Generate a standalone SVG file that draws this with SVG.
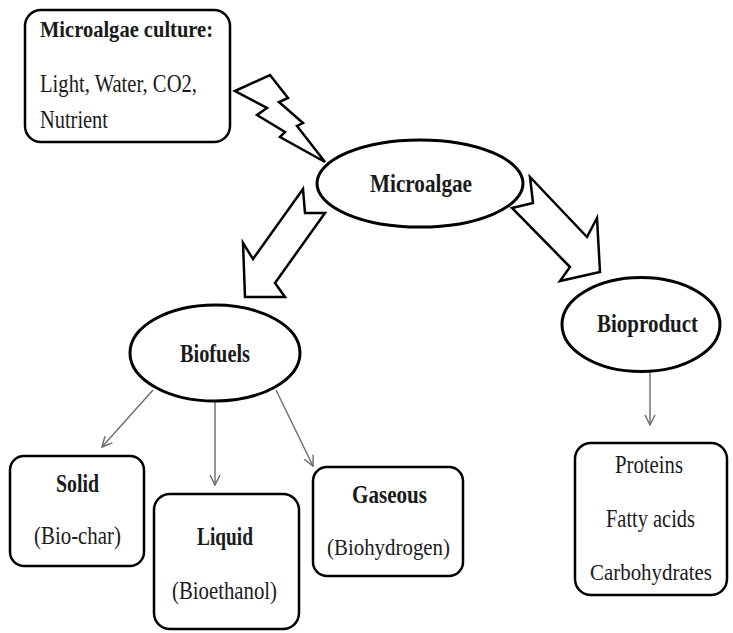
<svg xmlns="http://www.w3.org/2000/svg" width="733" height="633" viewBox="0 0 733 633">
<defs>
<style>
.box{fill:#fff;stroke:#000;stroke-width:2.5}
.ell{fill:#fff;stroke:#000;stroke-width:3}
.big{fill:#fff;stroke:#000;stroke-width:2.5;stroke-linejoin:miter}
.thin{fill:none;stroke:#6b6b6b;stroke-width:1.4}
text{font-family:"Liberation Serif","Times New Roman",serif;fill:#1a1a1a}
.b{font-weight:bold;font-size:25px}
.r{font-size:25px}
</style>
<marker id="v" viewBox="0 0 12 12" refX="11" refY="6" markerWidth="12" markerHeight="12" markerUnits="userSpaceOnUse" orient="auto">
<path d="M1,1 L11,6 L1,11" fill="none" stroke="#6b6b6b" stroke-width="1.4"/>
</marker>
</defs>
<g id="connectors">
<polygon class="big" points="235,91 270,75 288,98 279,102 303,123 297,126 325,162 280,137 285,132 257,115 267,108"/>
<polygon class="big" points="303,189 305,213 325,213 275,283 285,297 245,297 243,243 253,259"/>
<polygon class="big" points="530,177 533,203 512,208 570,267 560,281 600,272 597,218 587,237"/>
<line class="thin" x1="153" y1="390" x2="102" y2="447" marker-end="url(#v)"/>
<line class="thin" x1="215" y1="401" x2="215" y2="485" marker-end="url(#v)"/>
<line class="thin" x1="276" y1="390" x2="313" y2="466" marker-end="url(#v)"/>
<line class="thin" x1="650" y1="372" x2="650" y2="425" marker-end="url(#v)"/>
</g>
<g id="culture">
<rect class="box" x="25" y="10" width="205" height="132" rx="16"/>
<text class="b" x="40" y="37" style="font-size:23px" textLength="173" lengthAdjust="spacingAndGlyphs">Microalgae culture:</text>
<text class="r" x="40" y="92" textLength="157" lengthAdjust="spacingAndGlyphs">Light, Water, CO2,</text>
<text class="r" x="40" y="128" textLength="68" lengthAdjust="spacingAndGlyphs">Nutrient</text>
</g>
<g id="microalgae">
<ellipse class="ell" cx="420" cy="183.5" rx="103" ry="43.5"/>
<text class="b" x="370" y="192" textLength="102" lengthAdjust="spacingAndGlyphs">Microalgae</text>
</g>
<g id="biofuels">
<ellipse class="ell" cx="215" cy="353" rx="85" ry="48"/>
<text class="b" x="180" y="362" textLength="70" lengthAdjust="spacingAndGlyphs">Biofuels</text>
</g>
<g id="bioproduct">
<ellipse class="ell" cx="641" cy="324.5" rx="79" ry="47"/>
<text class="b" x="597" y="332" textLength="101" lengthAdjust="spacingAndGlyphs">Bioproduct</text>
</g>
<g id="solid">
<rect class="box" x="10" y="456" width="134" height="110" rx="14"/>
<text class="b" x="56" y="492" textLength="43" lengthAdjust="spacingAndGlyphs">Solid</text>
<text class="r" x="34" y="544" textLength="87" lengthAdjust="spacingAndGlyphs">(Bio-char)</text>
</g>
<g id="liquid">
<rect class="box" x="154" y="494" width="145" height="135" rx="16"/>
<text class="b" x="197" y="545" textLength="56" lengthAdjust="spacingAndGlyphs">Liquid</text>
<text class="r" x="172" y="599" textLength="105" lengthAdjust="spacingAndGlyphs">(Bioethanol)</text>
</g>
<g id="gaseous">
<rect class="box" x="313" y="467" width="150" height="109" rx="14"/>
<text class="b" x="352" y="503" textLength="75" lengthAdjust="spacingAndGlyphs">Gaseous</text>
<text class="r" x="327" y="555" style="font-size:23px" textLength="123" lengthAdjust="spacingAndGlyphs">(Biohydrogen)</text>
</g>
<g id="products">
<rect class="box" x="575" y="443" width="152" height="152" rx="16"/>
<text class="r" x="615" y="473" textLength="68" lengthAdjust="spacingAndGlyphs">Proteins</text>
<text class="r" x="606" y="527" textLength="89" lengthAdjust="spacingAndGlyphs">Fatty acids</text>
<text class="r" x="590" y="580" style="font-size:23px" textLength="122" lengthAdjust="spacingAndGlyphs">Carbohydrates</text>
</g>
</svg>
